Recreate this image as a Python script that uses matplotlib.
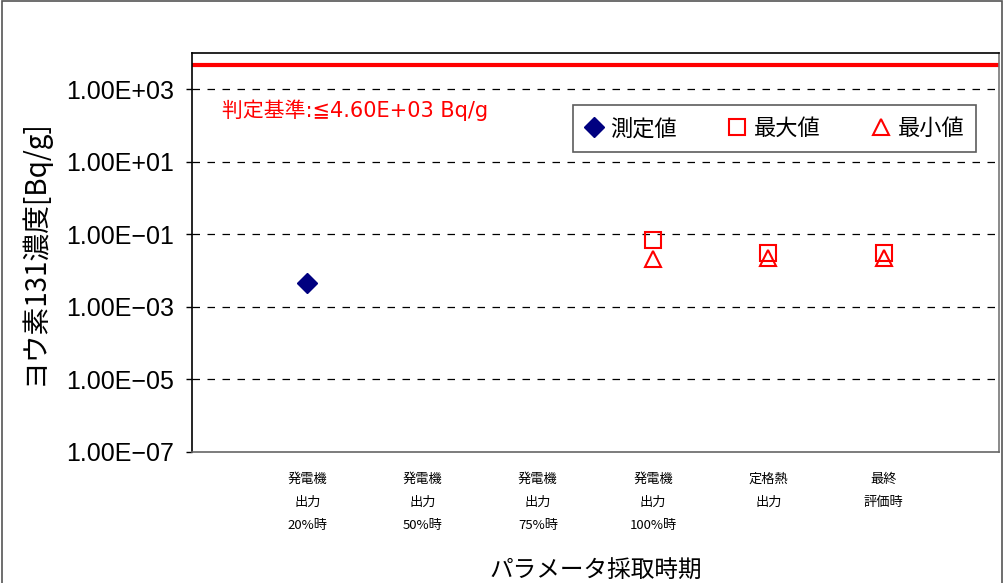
import matplotlib
matplotlib.use("Agg")
import matplotlib.pyplot as plt
from matplotlib.patches import Rectangle

plt.rcParams['font.family'] = ['Noto Sans CJK JP', 'DejaVu Sans']

# data
categories = ["発電機\n出力\n20%時", "発電機\n出力\n50%時", "発電機\n出力\n75%時",
              "発電機\n出力\n100%時", "定格熱\n出力", "最終\n評価時"]
x_pos = [1, 2, 3, 4, 5, 6]
measured = [4.6e-3, None, None, None, None, None]
max_vals = [None, None, None, 7.1e-2, 3.1e-2, 3.1e-2]
min_vals = [None, None, None, 2.1e-2, 2.2e-2, 2.2e-2]
limit = 4.6e3
y_ticks = [1e-7, 1e-5, 1e-3, 1e-1, 1e1, 1e3]
y_ticklabels = ["1.00E\u221207", "1.00E\u221205", "1.00E\u221203",
                "1.00E\u221201", "1.00E+01", "1.00E+03"]

def pts(vals):
    xs = [x for x, v in zip(x_pos, vals) if v is not None]
    ys = [v for v in vals if v is not None]
    return xs, ys

fig = plt.figure(figsize=(10.04, 5.83), dpi=100)
fig.patches.append(Rectangle((0.002, -0.01), 0.996, 1.008, transform=fig.transFigure,
                             fill=False, edgecolor='#555555', linewidth=1.2))
ax = fig.add_axes([0.1912, 0.2247, 0.8038, 0.6844])

ax.set_yscale('log')
ax.set_ylim(1e-7, 1e4)
ax.set_xlim(0, 7)
ax.set_yticks(y_ticks)
ax.set_yticklabels(y_ticklabels, fontfamily='Liberation Sans', fontsize=18)
ax.minorticks_off()
ax.yaxis.set_tick_params(length=4, width=1, pad=9)
for y in y_ticks[1:]:
    ax.axhline(y, color='black', linestyle=(0, (6, 6)), linewidth=0.9, zorder=1)

ax.set_xticks(x_pos)
ax.set_xticklabels(categories, fontsize=9.5, linespacing=2.0)
ax.xaxis.set_tick_params(length=0, pad=15)

for s in ax.spines.values():
    s.set_linewidth(1.2)
ax.spines['right'].set_color('#777777')
ax.spines['bottom'].set_color('#666666')

ax.axhline(limit, color='red', linewidth=3, zorder=2)
ax.text(0.037, 0.857, "判定基準:≦4.60E+03 Bq/g", transform=ax.transAxes,
        color='red', fontsize=15, va='center', ha='left',
        family=['DejaVu Sans', 'Noto Sans CJK JP'])

xs, ys = pts(measured)
ax.plot(xs, ys, linestyle='none', marker='D', markersize=10, color='#000080', label='測定値', zorder=4)
xs, ys = pts(max_vals)
ax.plot(xs, ys, linestyle='none', marker='s', markersize=11, markerfacecolor='none',
        markeredgecolor='red', markeredgewidth=1.5, label='最大値', zorder=4)
xs, ys = pts(min_vals)
ax.plot(xs, ys, linestyle='none', marker='^', markersize=12, markerfacecolor='none',
        markeredgecolor='red', markeredgewidth=1.5, label='最小値', zorder=4)

leg = ax.legend(loc='upper left', bbox_to_anchor=(0.472, 0.870), ncol=3, fontsize=16,
                frameon=True, fancybox=False, borderaxespad=0, handlelength=0.8,
                handletextpad=0.35, columnspacing=2.3, borderpad=0.55)
leg.get_frame().set_edgecolor('#333333')
leg.get_frame().set_linewidth(1.2)

ax.set_ylabel("ヨウ素131濃度[Bq/g]", fontsize=20, labelpad=12)
ax.set_xlabel("パラメータ採取時期", fontsize=17, labelpad=20)

fig.savefig("out.png", dpi=100)
